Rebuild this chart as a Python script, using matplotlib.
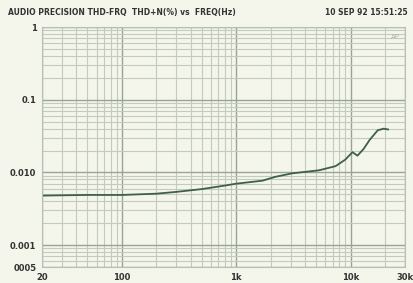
import numpy as np
import matplotlib.pyplot as plt
from matplotlib.ticker import FixedLocator, NullFormatter

# THD+N vs frequency
freq = [20, 50, 100, 200, 300, 500, 800, 1000, 1700, 2200, 3070, 5300,
        7400, 9000, 10400, 11500, 13000, 14700, 17300, 19500, 21300]
thdn = [0.0048, 0.0049, 0.0049, 0.0051, 0.0054, 0.0059, 0.0066, 0.0070,
        0.0077, 0.0087, 0.0097, 0.0107, 0.0122, 0.0150, 0.0190, 0.0170,
        0.0210, 0.0280, 0.0380, 0.0400, 0.0390]

yticks = [1, 0.1, 0.01, 0.001, 0.0005]
ytick_labels = ['1', '0.1', '0.010', '0.001', '0005']
xticks = [20, 100, 1000, 10000, 30000]
xtick_labels = ['20', '100', '1k', '10k', '30k']

bg = '#f4f6ec'
fig = plt.figure(figsize=(4.14, 2.83), dpi=100, facecolor=bg)
ax = fig.add_axes([0.1014, 0.0565, 0.877, 0.848], facecolor=bg)

ax.set_xscale('log')
ax.set_yscale('log')
ax.set_xlim(20, 30000)
ax.set_ylim(0.0005, 1)

# dense minor grid like the analyzer printout
xminor = [m * 10 ** d for d in range(1, 5) for m in range(2, 10)
          if 20 <= m * 10 ** d <= 30000]
yminor = [m * 10 ** d for d in range(-4, 0) for m in range(2, 10)
          if 0.0005 <= m * 10 ** d <= 1]
ax.xaxis.set_minor_locator(FixedLocator(xminor))
ax.yaxis.set_minor_locator(FixedLocator(yminor))
ax.xaxis.set_minor_formatter(NullFormatter())
ax.yaxis.set_minor_formatter(NullFormatter())
ax.grid(True, which='minor', color='#c3cbbd', lw=0.8)
ax.grid(True, which='major', color='#9aa496', lw=1.0)

ax.plot(freq, thdn, color='#3f5f46', lw=1.3)

ax.set_xticks(xticks)
ax.set_xticklabels(xtick_labels)
ax.set_yticks(yticks)
ax.set_yticklabels(ytick_labels)
ax.tick_params(which='both', length=0, labelsize=6, colors='#333333', pad=4)
for lbl in ax.get_xticklabels() + ax.get_yticklabels():
    lbl.set_fontweight('bold')

for s in ax.spines.values():
    s.set_color('#b8c0b2')
    s.set_linewidth(0.8)

ax.text(0.985, 0.97, 'AP', transform=ax.transAxes, ha='right', va='top',
        fontsize=5, color='#b0b0b0')

fig.text(0.02, 0.955, 'AUDIO PRECISION THD-FRQ  THD+N(%) vs  FREQ(Hz)',
         fontsize=5.5, fontweight='bold', color='#333333', va='center')
fig.text(0.985, 0.955, '10 SEP 92 15:51:25', fontsize=5.5,
         fontweight='bold', color='#333333', va='center', ha='right')

fig.savefig('out.png', dpi=100, facecolor=bg)
